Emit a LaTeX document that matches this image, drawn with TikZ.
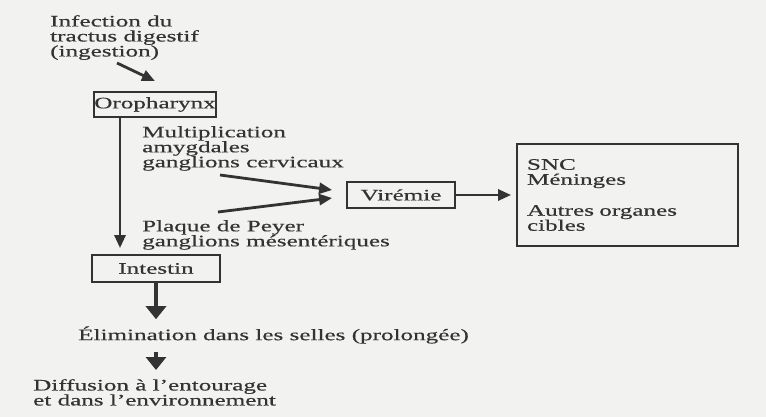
\documentclass[tikz,border=0pt]{standalone}
\usepackage{fontspec}
\setmainfont{Liberation Serif}[FakeStretch=1.57,FakeBold=0.4]
\usetikzlibrary{arrows.meta,positioning}
\definecolor{inkgray}{HTML}{333333}
\definecolor{paper}{HTML}{F2F2F0}

\begin{document}
\begin{tikzpicture}[x=1pt,y=-1pt,
  font=\fontsize{16}{15}\selectfont,
  box/.style={draw=inkgray,line width=1.8pt,inner sep=0pt,text=inkgray},
  lbl/.style={align=left,inner sep=0pt,anchor=north west,text=inkgray},
  arr/.style={draw=inkgray,line width=2.8pt,-{Triangle[length=13pt,width=11pt]}},
  bigarr/.style={draw=inkgray,line width=4.5pt,-{Triangle[length=13pt,width=20pt]}}]
\fill[paper] (0,0) rectangle (766,417);
\useasboundingbox (0,0) rectangle (766,417);

% entree et oropharynx
\node[lbl] (infect) at (50,15) {Infection du\\tractus digestif\\(ingestion)};
\node[box,minimum width=116pt,minimum height=25pt] (oro) at (155,104.5) {Oropharynx};
\node[lbl] (multi) at (142,126) {Multiplication\\amygdales\\ganglions cervicaux};
\node[lbl] (peyer) at (142,220) {Plaque de Peyer\\ganglions mésentériques};

% viremie et organes cibles
\node[box,minimum width=108pt,minimum height=26pt] (vir) at (401,195) {Virémie};
\node[box,minimum width=221pt,minimum height=102pt,text width=201pt,align=left] (snc) at (627.5,195)
  {SNC\\Méninges\\[16pt]Autres organes\\cibles};

% intestin et sortie
\node[box,minimum width=128pt,minimum height=27pt] (intest) at (156,268.5) {Intestin};
\node[lbl,anchor=west] (elim) at (78,335) {Élimination dans les selles (prolongée)};
\node[lbl] (diffus) at (33,379) {Diffusion à l’entourage\\et dans l’environnement};

\coordinate (i1) at (117,63);
\coordinate (m1) at (220,175);
\coordinate (p1) at (218,212);

\draw[arr] (i1) -- ([yshift=10pt]oro.north);
\draw[arr] ([xshift=-35pt]oro.south) -- ([xshift=-36pt,yshift=6pt]intest.north);
\draw[arr] (m1) -- ([xshift=-14pt,yshift=5pt]vir.west);
\draw[arr] (p1) -- ([xshift=-14pt,yshift=-3pt]vir.west);
\draw[arr,shorten >=5pt] (vir) -- (snc);
\draw[bigarr,shorten >=7pt] (intest.south) -- (intest.south |- elim.north);
\draw[bigarr,shorten <=8pt,shorten >=9pt] (intest.south |- elim.south) -- (intest.south |- diffus.north);
\end{tikzpicture}
\end{document}
